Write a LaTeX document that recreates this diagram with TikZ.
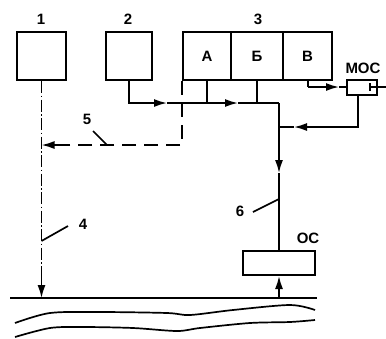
\documentclass[tikz,border=0pt]{standalone}
\usepackage{fontspec}
\setmainfont{Liberation Sans}
\usetikzlibrary{arrows.meta,positioning,calc}
\tikzset{
  blk/.style={rectangle, draw, line width=2pt, inner sep=0pt,
              font=\fontsize{15}{15}\selectfont\bfseries},
  lbl/.style={inner sep=1pt, font=\fontsize{15}{15}\selectfont\bfseries},
  ln/.style={line width=1.7pt},
  arr/.style={-{Latex[length=13pt,width=8pt]}, line width=1.7pt},
  dsh/.style={line width=1.7pt, dash pattern=on 14pt off 8pt},
  dshdot/.style={line width=1.7pt, dash pattern=on 12pt off 2.5pt on 1.5pt off 2.5pt}
}

\begin{document}
\begin{tikzpicture}[x=1pt, y=-1pt]
  \useasboundingbox (0,0) rectangle (386,338);
  % blocks
  \node[blk, minimum width=49pt, minimum height=48pt] (b1) at (41.5,56) {};
  \node[blk, minimum width=46pt, minimum height=48pt] (b2) at (129,56) {};
  \node[blk, minimum width=48pt, minimum height=48pt] (ba) at (207,56) {А};
  \node[blk, minimum width=52pt, minimum height=48pt] (bb) at (257,56) {Б};
  \node[blk, minimum width=49pt, minimum height=48pt] (bv) at (307.5,56) {В};
  \node[blk, minimum width=30pt, minimum height=15pt] (moc) at (362,87) {};
  \node[blk, minimum width=72pt, minimum height=24pt] (os) at (279,263) {};
  % labels
  \node[lbl] (n1) at (41,19) {1};
  \node[lbl] (n2) at (128,19) {2};
  \node[lbl] (n3) at (258,19) {3};
  \node[lbl] (nmoc) at (363,68) {МОС};
  \node[lbl] (nos) at (308,238) {ОС};
  \node[lbl] (n4) at (83,224) {4};
  \node[lbl] (n5) at (87,119) {5};
  \node[lbl] (n6) at (240,211) {6};
  % junction points
  \coordinate (ja) at (ba.south |- 0,103);
  \coordinate (jb) at (bb.south |- 0,103);
  \coordinate (jr) at (279,103);
  \coordinate (jf) at (279,127);
  \coordinate (jv) at (308,87);
  \coordinate (d5) at (ba.south west |- 0,145);
  \coordinate (l5) at (b1.south |- 0,145);
  \coordinate (g4) at (b1.south |- 0,298);
  \coordinate (gos) at (os.south |- 0,298);
  \coordinate (mocin) at (370,87);
  \coordinate (mocout) at (386,87);
  % signal lines
  \draw[arr] (b2.south) |- (167,103);
  \draw[ln] (167,103) -- (ja);
  \draw[ln] (ba.south) -- (ja);
  \draw[arr] (ja) -- (238,103);
  \draw[ln] (238,103) -- (jr);
  \draw[ln] (bb.south) -- (jb);
  \draw[arr] (jr) -- (279,173);
  \draw[ln] (279,173) -- (os.north);
  \draw[ln] (308,80) -- (jv);
  \draw[arr] (jv) -- (339,87);
  \draw[ln] (339,87) -- (moc.west);
  \draw[ln] (mocout) -- (mocin);
  \draw[ln] (370,83) -- (370,91);
  \draw[arr] (moc.south -| 358,0) |- (294,127);
  \draw[ln] (294,127) -- (jf);
  \draw[arr] (gos) -- (os.south);
  % dashed lines
  \draw[dsh] (ba.south west) -- (d5) -- (62,145);
  \draw[arr] (62,145) -- (l5);
  \draw[dshdot] (b1.south) -- (41.5,272);
  \draw[arr] (41.5,272) -- (g4);
  % leaders
  \draw[ln] (93,131) -- (107,145);
  \draw[ln] (68,226) -- (41.5,241);
  \draw[ln] (253,212) -- (279,199);
  % ground
  \draw[line width=2pt] (10,298) -- (317,298);
  \draw[ln] plot[smooth] coordinates {(15,323) (50,313) (100,312) (167,313) (190,315) (233,310) (290,305) (315,310)};
  \draw[ln] plot[smooth] coordinates {(15,337) (50,328) (83,327) (133,328) (177,331) (200,328) (250,323) (290,322) (315,320)};
\end{tikzpicture}
\end{document}
